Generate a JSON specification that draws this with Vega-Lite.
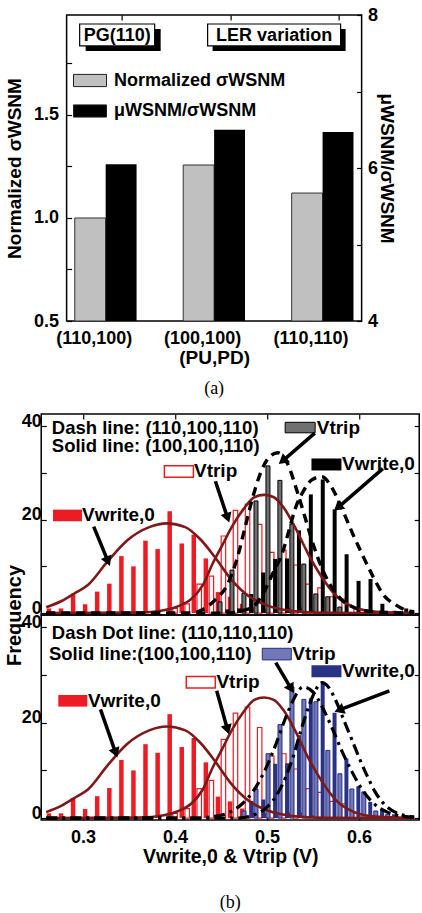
{
  "$schema": "https://vega.github.io/schema/vega-lite/v6.json",
  "padding": {"left": 3, "top": 5, "right": 0, "bottom": 0},
  "background": "white",
  "config": {
    "view": {"stroke": "#000", "strokeWidth": 1.5},
    "font": "Liberation Sans",
    "axis": {"labelFont": "Liberation Sans", "labelFontWeight": "bold", "labelFontSize": 18, "labelColor": "#000", "titleFont": "Liberation Sans", "titleFontWeight": "bold", "titleFontSize": 19, "titleColor": "#000", "tickColor": "#000", "tickWidth": 1.2, "domain": false, "grid": false, "ticks": true}
  },
  "datasets": {
    "barsA": [
      {"config": "(110,100)", "series": "Normalized σWSNM", "value": 1.0},
      {"config": "(100,100)", "series": "Normalized σWSNM", "value": 1.257},
      {"config": "(110,110)", "series": "Normalized σWSNM", "value": 1.121},
      {"config": "(110,100)", "series": "μWSNM/σWSNM", "value": 6.05},
      {"config": "(100,100)", "series": "μWSNM/σWSNM", "value": 6.50},
      {"config": "(110,110)", "series": "μWSNM/σWSNM", "value": 6.47}
    ],
    "redW": [
      {"v": 0.2630, "f": 1.0}, {"v": 0.2761, "f": 1.0}, {"v": 0.2892, "f": 4.2}, {"v": 0.3023, "f": 1.9},
      {"v": 0.3154, "f": 4.6}, {"v": 0.3286, "f": 6.3}, {"v": 0.3417, "f": 12.2}, {"v": 0.3548, "f": 10.0},
      {"v": 0.3679, "f": 15.5}, {"v": 0.3811, "f": 13.7}, {"v": 0.3942, "f": 21.8}, {"v": 0.4073, "f": 14.9},
      {"v": 0.4204, "f": 16.8}, {"v": 0.4335, "f": 11.7}, {"v": 0.4467, "f": 4.5}, {"v": 0.4598, "f": 3.5},
      {"v": 0.4729, "f": 2.0}, {"v": 0.4860, "f": 1.2}, {"v": 0.4992, "f": 1.0}, {"v": 0.5123, "f": 0.8},
      {"v": 0.5254, "f": 1.2}, {"v": 0.5385, "f": 1.2}, {"v": 0.5516, "f": 0.6}
    ],
    "redT": [
      {"v": 0.4001, "f": 1.0}, {"v": 0.4132, "f": 2.0}, {"v": 0.4263, "f": 6.2}, {"v": 0.4395, "f": 7.9},
      {"v": 0.4526, "f": 16.5}, {"v": 0.4657, "f": 22.0}, {"v": 0.4788, "f": 23.3}, {"v": 0.4920, "f": 19.0},
      {"v": 0.5051, "f": 13.0}, {"v": 0.5182, "f": 13.5}, {"v": 0.5313, "f": 10.3}, {"v": 0.5444, "f": 6.2},
      {"v": 0.5576, "f": 5.4}, {"v": 0.5707, "f": 3.5}, {"v": 0.5838, "f": 3.0}, {"v": 0.5969, "f": 1.0}
    ],
    "blkT": [
      {"v": 0.4489, "f": 2.4}, {"v": 0.4619, "f": 9.2}, {"v": 0.4749, "f": 4.2}, {"v": 0.4880, "f": 24.0},
      {"v": 0.5010, "f": 31.5}, {"v": 0.5140, "f": 28.4}, {"v": 0.5270, "f": 19.0}, {"v": 0.5400, "f": 10.5},
      {"v": 0.5530, "f": 4.1}, {"v": 0.5660, "f": 3.5}, {"v": 0.5791, "f": 1.3}
    ],
    "blkW": [
      {"v": 0.4569, "f": 0.8}, {"v": 0.4698, "f": 1.0}, {"v": 0.4828, "f": 4.1}, {"v": 0.4958, "f": 8.7},
      {"v": 0.5088, "f": 11.6}, {"v": 0.5217, "f": 11.7}, {"v": 0.5347, "f": 17.7}, {"v": 0.5476, "f": 25.4},
      {"v": 0.5606, "f": 28.6}, {"v": 0.5735, "f": 22.2}, {"v": 0.5865, "f": 12.6}, {"v": 0.5995, "f": 6.9},
      {"v": 0.6125, "f": 7.3}, {"v": 0.6254, "f": 2.0}, {"v": 0.6384, "f": 0.5}, {"v": 0.6513, "f": 1.0}
    ],
    "navT": [
      {"v": 0.4750, "f": 1.5}, {"v": 0.4880, "f": 6.0}, {"v": 0.5011, "f": 13.5}, {"v": 0.5141, "f": 19.6},
      {"v": 0.5271, "f": 27.5}, {"v": 0.5401, "f": 24.9}, {"v": 0.5531, "f": 24.4}, {"v": 0.5661, "f": 14.2},
      {"v": 0.5792, "f": 9.3}, {"v": 0.5922, "f": 6.1}, {"v": 0.6052, "f": 5.5}, {"v": 0.6182, "f": 1.5},
      {"v": 0.6312, "f": 0.8}
    ],
    "navW": [
      {"v": 0.4831, "f": 3.6}, {"v": 0.4960, "f": 3.9}, {"v": 0.5089, "f": 11.4}, {"v": 0.5218, "f": 11.5},
      {"v": 0.5347, "f": 17.4}, {"v": 0.5476, "f": 25.1}, {"v": 0.5605, "f": 28.6}, {"v": 0.5734, "f": 22.1},
      {"v": 0.5863, "f": 12.5}, {"v": 0.5993, "f": 6.7}, {"v": 0.6122, "f": 3.4}, {"v": 0.6251, "f": 1.8},
      {"v": 0.6380, "f": 0.8}, {"v": 0.6509, "f": 0.5}
    ],
    "cRedW": [
      {"v": 0.2600, "f": 1.25}, {"v": 0.2767, "f": 2.6}, {"v": 0.2905, "f": 4.2}, {"v": 0.3053, "f": 6.0},
      {"v": 0.3265, "f": 11.0}, {"v": 0.3476, "f": 15.5}, {"v": 0.3720, "f": 18.4}, {"v": 0.3910, "f": 19.2},
      {"v": 0.4111, "f": 18.4}, {"v": 0.4280, "f": 15.7}, {"v": 0.4429, "f": 12.1}, {"v": 0.4598, "f": 7.5},
      {"v": 0.4810, "f": 3.5}, {"v": 0.5021, "f": 1.5}, {"v": 0.5307, "f": 0.4}, {"v": 0.5656, "f": 0.05},
      {"v": 0.6600, "f": 0}
    ],
    "cRedT": [
      {"v": 0.2600, "f": 0}, {"v": 0.3614, "f": 0.1}, {"v": 0.3878, "f": 0.6}, {"v": 0.4037, "f": 1.5},
      {"v": 0.4175, "f": 3.0}, {"v": 0.4302, "f": 6.0}, {"v": 0.4407, "f": 10.5}, {"v": 0.4513, "f": 14.5},
      {"v": 0.4619, "f": 18.5}, {"v": 0.4746, "f": 22.3}, {"v": 0.4862, "f": 24.8}, {"v": 0.4968, "f": 25.3},
      {"v": 0.5074, "f": 24.8}, {"v": 0.5180, "f": 22.6}, {"v": 0.5307, "f": 18.3}, {"v": 0.5444, "f": 12.8},
      {"v": 0.5593, "f": 7.8}, {"v": 0.5762, "f": 3.5}, {"v": 0.5942, "f": 1.3}, {"v": 0.6185, "f": 0.3},
      {"v": 0.6600, "f": 0}
    ],
    "cBlkT": [
      {"v": 0.2600, "f": 0}, {"v": 0.4143, "f": 0}, {"v": 0.4302, "f": 0.8}, {"v": 0.4439, "f": 2.9},
      {"v": 0.4566, "f": 6.0}, {"v": 0.4672, "f": 11.5}, {"v": 0.4757, "f": 18.0}, {"v": 0.4841, "f": 24.5},
      {"v": 0.4926, "f": 29.8}, {"v": 0.5021, "f": 33.3}, {"v": 0.5116, "f": 34.3}, {"v": 0.5222, "f": 32.0},
      {"v": 0.5328, "f": 26.0}, {"v": 0.5413, "f": 20.5}, {"v": 0.5497, "f": 15.0}, {"v": 0.5582, "f": 10.3},
      {"v": 0.5688, "f": 6.0}, {"v": 0.5804, "f": 3.0}, {"v": 0.5942, "f": 1.2}, {"v": 0.6153, "f": 0.3},
      {"v": 0.6600, "f": 0}
    ],
    "cBlkW": [
      {"v": 0.2600, "f": 0}, {"v": 0.4566, "f": 0}, {"v": 0.4725, "f": 0.5}, {"v": 0.4852, "f": 1.4},
      {"v": 0.4958, "f": 4.2}, {"v": 0.5063, "f": 8.5}, {"v": 0.5169, "f": 13.0}, {"v": 0.5243, "f": 18.0},
      {"v": 0.5307, "f": 22.4}, {"v": 0.5381, "f": 25.6}, {"v": 0.5487, "f": 28.5}, {"v": 0.5593, "f": 29.2},
      {"v": 0.5698, "f": 27.1}, {"v": 0.5804, "f": 22.8}, {"v": 0.5942, "f": 16.5}, {"v": 0.6048, "f": 12.0},
      {"v": 0.6153, "f": 7.8}, {"v": 0.6270, "f": 3.8}, {"v": 0.6397, "f": 1.8}, {"v": 0.6534, "f": 0.5},
      {"v": 0.6600, "f": 0.3}
    ],
    "cNavT": [
      {"v": 0.2600, "f": 0}, {"v": 0.4249, "f": 0}, {"v": 0.4407, "f": 0.3}, {"v": 0.4566, "f": 1.0},
      {"v": 0.4725, "f": 2.9}, {"v": 0.4862, "f": 6.0}, {"v": 0.4989, "f": 10.5}, {"v": 0.5095, "f": 15.4},
      {"v": 0.5201, "f": 21.0}, {"v": 0.5286, "f": 24.8}, {"v": 0.5392, "f": 27.5}, {"v": 0.5497, "f": 26.5},
      {"v": 0.5603, "f": 23.2}, {"v": 0.5709, "f": 18.8}, {"v": 0.5815, "f": 14.0}, {"v": 0.5921, "f": 9.8},
      {"v": 0.6026, "f": 6.2}, {"v": 0.6153, "f": 3.2}, {"v": 0.6312, "f": 1.2}, {"v": 0.6471, "f": 0.4},
      {"v": 0.6600, "f": 0.2}
    ],
    "cNavW": [
      {"v": 0.2600, "f": 0}, {"v": 0.4672, "f": 0}, {"v": 0.4831, "f": 0.5}, {"v": 0.4968, "f": 1.8},
      {"v": 0.5095, "f": 4.5}, {"v": 0.5201, "f": 8.5}, {"v": 0.5286, "f": 13.0}, {"v": 0.5370, "f": 18.5},
      {"v": 0.5455, "f": 23.5}, {"v": 0.5519, "f": 26.5}, {"v": 0.5593, "f": 28.4}, {"v": 0.5667, "f": 27.5},
      {"v": 0.5751, "f": 24.5}, {"v": 0.5836, "f": 20.5}, {"v": 0.5921, "f": 16.5}, {"v": 0.6005, "f": 12.5},
      {"v": 0.6090, "f": 8.8}, {"v": 0.6175, "f": 5.5}, {"v": 0.6280, "f": 2.8}, {"v": 0.6407, "f": 1.1},
      {"v": 0.6524, "f": 0.4}, {"v": 0.6600, "f": 0.2}
    ]
  },
  "spacing": 12,
  "center": true,
  "vconcat": [
    {
      "width": 295,
      "height": 306,
      "title": {"text": "(a)", "orient": "bottom", "font": "Liberation Serif", "fontSize": 18, "fontWeight": "normal", "color": "#000", "offset": 13},
      "layer": [
        {
          "layer": [
            {
              "data": {"name": "barsA"},
              "transform": [{"filter": "datum.series === 'Normalized σWSNM'"}],
              "mark": {"type": "bar", "stroke": "#333", "strokeWidth": 1},
              "encoding": {
                "x": {"field": "config", "type": "nominal", "scale": {"domain": ["(110,100)", "(100,100)", "(110,110)"], "paddingInner": 0.43, "paddingOuter": 0.075},
                  "axis": {"orient": "bottom", "title": "(PU,PD)", "labelAngle": 0, "tickSize": -5, "tickOffset": -12, "labelPadding": 13, "titlePadding": 1}},
                "xOffset": {"field": "series", "type": "nominal", "scale": {"domain": ["Normalized σWSNM", "μWSNM/σWSNM"], "paddingInner": 0, "paddingOuter": 0}},
                "y": {"field": "value", "type": "quantitative", "scale": {"domain": [0.5, 1.985], "nice": false, "zero": false},
                  "axis": {"orient": "left", "values": [0.5, 0.75, 1, 1.25, 1.5, 1.75], "labelExpr": "(datum.value*2) % 1 === 0 ? format(datum.value, '.1f') : ''", "title": "Normalized σWSNM", "tickSize": -5, "labelPadding": 13, "titlePadding": 9}},
                "y2": {"datum": 0.5},
                "color": {"field": "series", "type": "nominal", "scale": {"domain": ["Normalized σWSNM", "μWSNM/σWSNM"], "range": ["#c0c0c0", "#000000"]},
                  "legend": {"orient": "none", "legendX": 32, "legendY": 48.5, "title": null, "direction": "vertical", "symbolType": "M-1,-0.37H1V0.37H-1Z", "symbolSize": 1089, "symbolStrokeColor": "#222", "symbolStrokeWidth": 1, "symbolOpacity": 1, "labelFont": "Liberation Sans", "labelFontWeight": "bold", "labelFontSize": 18, "labelColor": "#000", "labelOffset": 7, "rowPadding": 4.5, "padding": 0, "labelLimit": 300}}
              }
            },
            {
              "data": {"values": [{}]},
              "mark": {"type": "point", "shape": "M-1,-0.293H1V0.293H-1Z", "size": 5625, "filled": true, "fill": "#000", "strokeWidth": 0, "opacity": 1, "xOffset": 17.5, "yOffset": 5},
              "encoding": {"x": {"datum": "(110,100)"}, "y": {"datum": 1.888}}
            },
            {
              "data": {"values": [{}]},
              "mark": {"type": "point", "shape": "M-1,-0.293H1V0.293H-1Z", "size": 5625, "filled": true, "fill": "#fff", "stroke": "#000", "strokeWidth": 1.2, "opacity": 1, "xOffset": 11.5},
              "encoding": {"x": {"datum": "(110,100)"}, "y": {"datum": 1.888}}
            },
            {
              "data": {"values": [{}]},
              "mark": {"type": "text", "text": "PG(110)", "font": "Liberation Sans", "fontWeight": "bold", "fontSize": 18, "color": "#000", "align": "center", "baseline": "middle", "xOffset": 11.5, "dy": 1},
              "encoding": {"x": {"datum": "(110,100)"}, "y": {"datum": 1.888}}
            },
            {
              "data": {"values": [{}]},
              "mark": {"type": "point", "shape": "M-1,-0.165H1V0.165H-1Z", "size": 17689, "filled": true, "fill": "#000", "strokeWidth": 0, "opacity": 1, "xOffset": 65, "yOffset": 5},
              "encoding": {"x": {"datum": "(100,100)"}, "y": {"datum": 1.888}}
            },
            {
              "data": {"values": [{}]},
              "mark": {"type": "point", "shape": "M-1,-0.165H1V0.165H-1Z", "size": 17689, "filled": true, "fill": "#fff", "stroke": "#000", "strokeWidth": 1.2, "opacity": 1, "xOffset": 60},
              "encoding": {"x": {"datum": "(100,100)"}, "y": {"datum": 1.888}}
            },
            {
              "data": {"values": [{}]},
              "mark": {"type": "text", "text": "LER variation", "font": "Liberation Sans", "fontWeight": "bold", "fontSize": 18, "color": "#000", "align": "center", "baseline": "middle", "xOffset": 60, "dy": 1},
              "encoding": {"x": {"datum": "(100,100)"}, "y": {"datum": 1.888}}
            }
          ]
        },
        {
          "data": {"name": "barsA"},
          "transform": [{"filter": "datum.series === 'μWSNM/σWSNM'"}],
          "mark": {"type": "bar"},
          "encoding": {
            "x": {"field": "config", "type": "nominal", "scale": {"domain": ["(110,100)", "(100,100)", "(110,110)"]},
              "axis": {"orient": "top", "labels": false, "title": null, "tickSize": -5, "tickOffset": 16}},
            "xOffset": {"field": "series", "type": "nominal", "scale": {"domain": ["Normalized σWSNM", "μWSNM/σWSNM"]}},
            "y": {"field": "value", "type": "quantitative", "scale": {"domain": [4, 8], "nice": false, "zero": false},
              "axis": {"orient": "right", "values": [4, 5, 6, 7, 8], "labelExpr": "datum.value % 2 === 0 ? datum.label : ''", "title": "μWSNM/σWSNM", "tickSize": -5, "labelPadding": 11, "titlePadding": -1}},
            "y2": {"datum": 4},
            "color": {"field": "series", "type": "nominal", "scale": {"domain": ["Normalized σWSNM", "μWSNM/σWSNM"], "range": ["#c0c0c0", "#000000"]}}
          }
        }
      ],
      "resolve": {"scale": {"y": "independent"}, "axis": {"x": "independent"}}
    },
    {
      "spacing": 0,
      "bounds": "flush",
      "vconcat": [
        {
          "width": 378,
          "height": 201,
          "layer": [
            {
              "layer": [
                {
                  "data": {"name": "redW"},
                  "mark": {"type": "bar", "width": 4.5, "color": "#ed1c24"},
                  "encoding": {
                    "x": {"field": "v", "type": "quantitative", "scale": {"domain": [0.26, 0.66], "nice": false, "zero": false},
                      "axis": {"orient": "top", "values": [0.3, 0.4, 0.5, 0.6], "labels": false, "title": null, "tickSize": -5}},
                    "y": {"field": "f", "type": "quantitative", "scale": {"domain": [-0.4, 42.6], "nice": false},
                      "axis": {"orient": "left", "values": [0, 10, 20, 30, 40], "labelExpr": "datum.value % 20 === 0 ? datum.label : ''", "title": "Frequency", "titleFontSize": 20, "titleY": 201, "titlePadding": -3, "tickSize": -5, "labelPadding": 5, "labelOffset": -5}}
                  }
                },
                {
                  "data": {"name": "redT"},
                  "mark": {"type": "bar", "width": 4.5, "fill": "#fff", "stroke": "#ed1c24", "strokeWidth": 1.2},
                  "encoding": {"x": {"field": "v", "type": "quantitative"}, "y": {"field": "f", "type": "quantitative"}}
                },
                {
                  "data": {"name": "blkT"},
                  "mark": {"type": "bar", "width": 4, "fill": "#707070", "stroke": "#000", "strokeWidth": 1},
                  "encoding": {"x": {"field": "v", "type": "quantitative"}, "y": {"field": "f", "type": "quantitative"}}
                },
                {
                  "data": {"name": "blkW"},
                  "mark": {"type": "bar", "width": 4, "color": "#000"},
                  "encoding": {"x": {"field": "v", "type": "quantitative"}, "y": {"field": "f", "type": "quantitative"}}
                },
                {
                  "data": {"name": "cRedW"},
                  "mark": {"type": "line", "interpolate": "monotone", "color": "#7f1818", "strokeWidth": 2.6},
                  "encoding": {"x": {"field": "v", "type": "quantitative"}, "y": {"field": "f", "type": "quantitative"}}
                },
                {
                  "data": {"name": "cRedT"},
                  "mark": {"type": "line", "interpolate": "monotone", "color": "#7f1818", "strokeWidth": 2.6},
                  "encoding": {"x": {"field": "v", "type": "quantitative"}, "y": {"field": "f", "type": "quantitative"}}
                },
                {
                  "data": {"name": "cBlkT"},
                  "mark": {"type": "line", "interpolate": "monotone", "color": "#000", "strokeWidth": 3.4, "strokeDash": [9, 6]},
                  "encoding": {"x": {"field": "v", "type": "quantitative"}, "y": {"field": "f", "type": "quantitative"}}
                },
                {
                  "data": {"name": "cBlkW"},
                  "mark": {"type": "line", "interpolate": "monotone", "color": "#000", "strokeWidth": 3.4, "strokeDash": [9, 6]},
                  "encoding": {"x": {"field": "v", "type": "quantitative"}, "y": {"field": "f", "type": "quantitative"}}
                },
                {
                  "data": {"values": [{}]},
                  "mark": {"type": "text", "text": "Dash line: (110,100,110)", "font": "Liberation Sans", "fontWeight": "bold", "fontSize": 18.5, "color": "#000", "align": "left", "baseline": "middle"},
                  "encoding": {"x": {"datum": 0.2661}, "y": {"datum": 39.5}}
                },
                {
                  "data": {"values": [{}]},
                  "mark": {"type": "text", "text": "Solid line: (100,100,110)", "font": "Liberation Sans", "fontWeight": "bold", "fontSize": 18.5, "color": "#000", "align": "left", "baseline": "middle"},
                  "encoding": {"x": {"datum": 0.2661}, "y": {"datum": 35.7}}
                },
                {
                  "data": {"values": [{}]},
                  "mark": {"type": "point", "shape": "M-1,-0.35H1V0.35H-1Z", "size": 900, "filled": true, "fill": "#707070", "stroke": "#000", "strokeWidth": 1, "opacity": 1},
                  "encoding": {"x": {"datum": 0.536}, "y": {"datum": 39.7}}
                },
                {
                  "data": {"values": [{}]},
                  "mark": {"type": "text", "text": "Vtrip", "font": "Liberation Sans", "fontWeight": "bold", "fontSize": 19, "color": "#000", "align": "left", "baseline": "middle"},
                  "encoding": {"x": {"datum": 0.554}, "y": {"datum": 39.7}}
                },
                {
                  "data": {"values": [{}]},
                  "mark": {"type": "point", "shape": "M-1,-0.4H1V0.4H-1Z", "size": 841, "filled": true, "fill": "#fff", "stroke": "#ed1c24", "strokeWidth": 1.5, "opacity": 1},
                  "encoding": {"x": {"datum": 0.4042}, "y": {"datum": 30.3}}
                },
                {
                  "data": {"values": [{}]},
                  "mark": {"type": "text", "text": "Vtrip", "font": "Liberation Sans", "fontWeight": "bold", "fontSize": 19, "color": "#000", "align": "left", "baseline": "middle"},
                  "encoding": {"x": {"datum": 0.4206}, "y": {"datum": 30.3}}
                },
                {
                  "data": {"values": [{}]},
                  "mark": {"type": "point", "shape": "M-1,-0.4H1V0.4H-1Z", "size": 841, "filled": true, "fill": "#ed1c24", "strokeWidth": 0, "opacity": 1},
                  "encoding": {"x": {"datum": 0.2831}, "y": {"datum": 20.9}}
                },
                {
                  "data": {"values": [{}]},
                  "mark": {"type": "text", "text": "Vwrite,0", "font": "Liberation Sans", "fontWeight": "bold", "fontSize": 19, "color": "#000", "align": "left", "baseline": "middle"},
                  "encoding": {"x": {"datum": 0.2989}, "y": {"datum": 20.9}}
                },
                {
                  "data": {"values": [{}]},
                  "mark": {"type": "point", "shape": "M-1,-0.4H1V0.4H-1Z", "size": 900, "filled": true, "fill": "#000", "strokeWidth": 0, "opacity": 1},
                  "encoding": {"x": {"datum": 0.5646}, "y": {"datum": 31.8}}
                },
                {
                  "data": {"values": [{}]},
                  "mark": {"type": "text", "text": "Vwrite,0", "font": "Liberation Sans", "fontWeight": "bold", "fontSize": 19, "color": "#000", "align": "left", "baseline": "middle"},
                  "encoding": {"x": {"datum": 0.5815}, "y": {"datum": 31.8}}
                },
                {
                  "data": {"values": [{}]},
                  "mark": {"type": "rule", "strokeWidth": 3.5, "color": "#000"},
                  "encoding": {"x": {"datum": 0.3116}, "y": {"datum": 18.5}, "x2": {"datum": 0.3265}, "y2": {"datum": 11.4}}
                },
                {
                  "data": {"values": [{}]},
                  "mark": {"type": "point", "shape": "triangle", "size": 130, "filled": true, "color": "#000", "opacity": 1, "angle": 157},
                  "encoding": {"x": {"datum": 0.3265}, "y": {"datum": 11.4}}
                },
                {
                  "data": {"values": [{}]},
                  "mark": {"type": "rule", "strokeWidth": 3.5, "color": "#000"},
                  "encoding": {"x": {"datum": 0.4439}, "y": {"datum": 28.2}, "x2": {"datum": 0.4566}, "y2": {"datum": 20.7}}
                },
                {
                  "data": {"values": [{}]},
                  "mark": {"type": "point", "shape": "triangle", "size": 130, "filled": true, "color": "#000", "opacity": 1, "angle": 161},
                  "encoding": {"x": {"datum": 0.4566}, "y": {"datum": 20.7}}
                },
                {
                  "data": {"values": [{}]},
                  "mark": {"type": "rule", "strokeWidth": 3.5, "color": "#000"},
                  "encoding": {"x": {"datum": 0.5519}, "y": {"datum": 38.5}, "x2": {"datum": 0.5183}, "y2": {"datum": 32.8}}
                },
                {
                  "data": {"values": [{}]},
                  "mark": {"type": "point", "shape": "triangle", "size": 130, "filled": true, "color": "#000", "opacity": 1, "angle": 231},
                  "encoding": {"x": {"datum": 0.5183}, "y": {"datum": 32.8}}
                },
                {
                  "data": {"values": [{}]},
                  "mark": {"type": "rule", "strokeWidth": 3.5, "color": "#000"},
                  "encoding": {"x": {"datum": 0.6259}, "y": {"datum": 30.9}, "x2": {"datum": 0.5783}, "y2": {"datum": 22.8}}
                },
                {
                  "data": {"values": [{}]},
                  "mark": {"type": "point", "shape": "triangle", "size": 130, "filled": true, "color": "#000", "opacity": 1, "angle": 230},
                  "encoding": {"x": {"datum": 0.5783}, "y": {"datum": 22.8}}
                }
              ]
            },
            {
              "data": {"values": [{}]},
              "mark": {"type": "point", "opacity": 0},
              "encoding": {
                "x": {"datum": 0.4, "type": "quantitative", "axis": {"orient": "top", "values": [0.3, 0.4, 0.5, 0.6], "labels": false, "title": null, "tickSize": -5}},
                "y": {"datum": 0, "type": "quantitative", "axis": {"orient": "right", "values": [0, 10, 20, 30, 40], "labels": false, "title": null, "tickSize": -5}}
              }
            }
          ],
          "resolve": {"axis": {"y": "independent"}}
        },
        {
          "width": 378,
          "height": 205,
          "title": {"text": "(b)", "orient": "bottom", "font": "Liberation Serif", "fontSize": 18, "fontWeight": "normal", "color": "#000", "offset": 28},
          "layer": [
            {
              "layer": [
                {
                  "data": {"name": "redW"},
                  "mark": {"type": "bar", "width": 4.5, "color": "#ed1c24"},
                  "encoding": {
                    "x": {"field": "v", "type": "quantitative", "scale": {"domain": [0.26, 0.66], "nice": false, "zero": false},
                      "axis": {"orient": "bottom", "values": [0.3, 0.4, 0.5, 0.6], "format": ".1f", "title": "Vwrite,0 & Vtrip (V)", "titleFontSize": 19.5, "tickSize": -5, "labelPadding": 13, "titlePadding": 1}},
                    "y": {"field": "f", "type": "quantitative", "scale": {"domain": [-0.4, 42.6], "nice": false},
                      "axis": {"orient": "left", "values": [0, 10, 20, 30, 40], "labelExpr": "datum.value % 20 === 0 ? datum.label : ''", "title": null, "tickSize": -5, "labelPadding": 5, "labelOffset": -5}}
                  }
                },
                {
                  "data": {"name": "redT"},
                  "mark": {"type": "bar", "width": 4.5, "fill": "#fff", "stroke": "#ed1c24", "strokeWidth": 1.2},
                  "encoding": {"x": {"field": "v", "type": "quantitative"}, "y": {"field": "f", "type": "quantitative"}}
                },
                {
                  "data": {"name": "navT"},
                  "mark": {"type": "bar", "width": 4, "fill": "#7078b8", "stroke": "#262f80", "strokeWidth": 1},
                  "encoding": {"x": {"field": "v", "type": "quantitative"}, "y": {"field": "f", "type": "quantitative"}}
                },
                {
                  "data": {"name": "navW"},
                  "mark": {"type": "bar", "width": 4, "color": "#2a3286"},
                  "encoding": {"x": {"field": "v", "type": "quantitative"}, "y": {"field": "f", "type": "quantitative"}}
                },
                {
                  "data": {"name": "cRedW"},
                  "mark": {"type": "line", "interpolate": "monotone", "color": "#7f1818", "strokeWidth": 2.6},
                  "encoding": {"x": {"field": "v", "type": "quantitative"}, "y": {"field": "f", "type": "quantitative"}}
                },
                {
                  "data": {"name": "cRedT"},
                  "mark": {"type": "line", "interpolate": "monotone", "color": "#7f1818", "strokeWidth": 2.6},
                  "encoding": {"x": {"field": "v", "type": "quantitative"}, "y": {"field": "f", "type": "quantitative"}}
                },
                {
                  "data": {"name": "cNavT"},
                  "mark": {"type": "line", "interpolate": "monotone", "color": "#000", "strokeWidth": 3.2, "strokeDash": [11, 5, 3, 5]},
                  "encoding": {"x": {"field": "v", "type": "quantitative"}, "y": {"field": "f", "type": "quantitative"}}
                },
                {
                  "data": {"name": "cNavW"},
                  "mark": {"type": "line", "interpolate": "monotone", "color": "#000", "strokeWidth": 3.2, "strokeDash": [11, 5, 3, 5]},
                  "encoding": {"x": {"field": "v", "type": "quantitative"}, "y": {"field": "f", "type": "quantitative"}}
                },
                {
                  "data": {"values": [{}]},
                  "mark": {"type": "text", "text": "Dash Dot line: (110,110,110)", "font": "Liberation Sans", "fontWeight": "bold", "fontSize": 18.5, "color": "#000", "align": "left", "baseline": "middle"},
                  "encoding": {"x": {"datum": 0.2661}, "y": {"datum": 38.9}}
                },
                {
                  "data": {"values": [{}]},
                  "mark": {"type": "text", "text": "Solid line:(100,100,110)", "font": "Liberation Sans", "fontWeight": "bold", "fontSize": 18.5, "color": "#000", "align": "left", "baseline": "middle"},
                  "encoding": {"x": {"datum": 0.263}, "y": {"datum": 34.4}}
                },
                {
                  "data": {"values": [{}]},
                  "mark": {"type": "point", "shape": "M-1,-0.4H1V0.4H-1Z", "size": 841, "filled": true, "fill": "#7078b8", "stroke": "#262f80", "strokeWidth": 1, "opacity": 1},
                  "encoding": {"x": {"datum": 0.5106}, "y": {"datum": 34.4}}
                },
                {
                  "data": {"values": [{}]},
                  "mark": {"type": "text", "text": "Vtrip", "font": "Liberation Sans", "fontWeight": "bold", "fontSize": 19, "color": "#000", "align": "left", "baseline": "middle"},
                  "encoding": {"x": {"datum": 0.5275}, "y": {"datum": 34.4}}
                },
                {
                  "data": {"values": [{}]},
                  "mark": {"type": "point", "shape": "M-1,-0.4H1V0.4H-1Z", "size": 900, "filled": true, "fill": "#2a3286", "strokeWidth": 0, "opacity": 1},
                  "encoding": {"x": {"datum": 0.5646}, "y": {"datum": 30.8}}
                },
                {
                  "data": {"values": [{}]},
                  "mark": {"type": "text", "text": "Vwrite,0", "font": "Liberation Sans", "fontWeight": "bold", "fontSize": 19, "color": "#000", "align": "left", "baseline": "middle"},
                  "encoding": {"x": {"datum": 0.5815}, "y": {"datum": 30.8}}
                },
                {
                  "data": {"values": [{}]},
                  "mark": {"type": "point", "shape": "M-1,-0.4H1V0.4H-1Z", "size": 841, "filled": true, "fill": "#fff", "stroke": "#ed1c24", "strokeWidth": 1.5, "opacity": 1},
                  "encoding": {"x": {"datum": 0.428}, "y": {"datum": 28.5}}
                },
                {
                  "data": {"values": [{}]},
                  "mark": {"type": "text", "text": "Vtrip", "font": "Liberation Sans", "fontWeight": "bold", "fontSize": 19, "color": "#000", "align": "left", "baseline": "middle"},
                  "encoding": {"x": {"datum": 0.445}, "y": {"datum": 28.5}}
                },
                {
                  "data": {"values": [{}]},
                  "mark": {"type": "point", "shape": "M-1,-0.4H1V0.4H-1Z", "size": 841, "filled": true, "fill": "#ed1c24", "strokeWidth": 0, "opacity": 1},
                  "encoding": {"x": {"datum": 0.2889}, "y": {"datum": 24.6}}
                },
                {
                  "data": {"values": [{}]},
                  "mark": {"type": "text", "text": "Vwrite,0", "font": "Liberation Sans", "fontWeight": "bold", "fontSize": 19, "color": "#000", "align": "left", "baseline": "middle"},
                  "encoding": {"x": {"datum": 0.3053}, "y": {"datum": 24.6}}
                },
                {
                  "data": {"values": [{}]},
                  "mark": {"type": "rule", "strokeWidth": 3.5, "color": "#000"},
                  "encoding": {"x": {"datum": 0.319}, "y": {"datum": 22.8}, "x2": {"datum": 0.3349}, "y2": {"datum": 14.0}}
                },
                {
                  "data": {"values": [{}]},
                  "mark": {"type": "point", "shape": "triangle", "size": 130, "filled": true, "color": "#000", "opacity": 1, "angle": 160},
                  "encoding": {"x": {"datum": 0.3349}, "y": {"datum": 14.0}}
                },
                {
                  "data": {"values": [{}]},
                  "mark": {"type": "rule", "strokeWidth": 3.5, "color": "#000"},
                  "encoding": {"x": {"datum": 0.4453}, "y": {"datum": 26.7}, "x2": {"datum": 0.4566}, "y2": {"datum": 18.9}}
                },
                {
                  "data": {"values": [{}]},
                  "mark": {"type": "point", "shape": "triangle", "size": 130, "filled": true, "color": "#000", "opacity": 1, "angle": 164},
                  "encoding": {"x": {"datum": 0.4566}, "y": {"datum": 18.9}}
                },
                {
                  "data": {"values": [{}]},
                  "mark": {"type": "rule", "strokeWidth": 3.5, "color": "#000"},
                  "encoding": {"x": {"datum": 0.5095}, "y": {"datum": 32.6}, "x2": {"datum": 0.5254}, "y2": {"datum": 27.4}}
                },
                {
                  "data": {"values": [{}]},
                  "mark": {"type": "point", "shape": "triangle", "size": 130, "filled": true, "color": "#000", "opacity": 1, "angle": 149},
                  "encoding": {"x": {"datum": 0.5254}, "y": {"datum": 27.4}}
                },
                {
                  "data": {"values": [{}]},
                  "mark": {"type": "rule", "strokeWidth": 3.5, "color": "#000"},
                  "encoding": {"x": {"datum": 0.633}, "y": {"datum": 26.7}, "x2": {"datum": 0.5801}, "y2": {"datum": 22.8}}
                },
                {
                  "data": {"values": [{}]},
                  "mark": {"type": "point", "shape": "triangle", "size": 130, "filled": true, "color": "#000", "opacity": 1, "angle": 250},
                  "encoding": {"x": {"datum": 0.5801}, "y": {"datum": 22.8}}
                }
              ]
            },
            {
              "data": {"values": [{}]},
              "mark": {"type": "point", "opacity": 0},
              "encoding": {
                "x": {"datum": 0.4, "type": "quantitative", "axis": {"orient": "bottom", "values": [0.3, 0.4, 0.5, 0.6], "format": ".1f", "title": "Vwrite,0 & Vtrip (V)", "titleFontSize": 19.5, "tickSize": -5, "labelPadding": 13, "titlePadding": 1}},
                "y": {"datum": 0, "type": "quantitative", "axis": {"orient": "right", "values": [0, 10, 20, 30, 40], "labels": false, "title": null, "tickSize": -5}}
              }
            }
          ],
          "resolve": {"axis": {"y": "independent"}}
        }
      ]
    }
  ]
}
